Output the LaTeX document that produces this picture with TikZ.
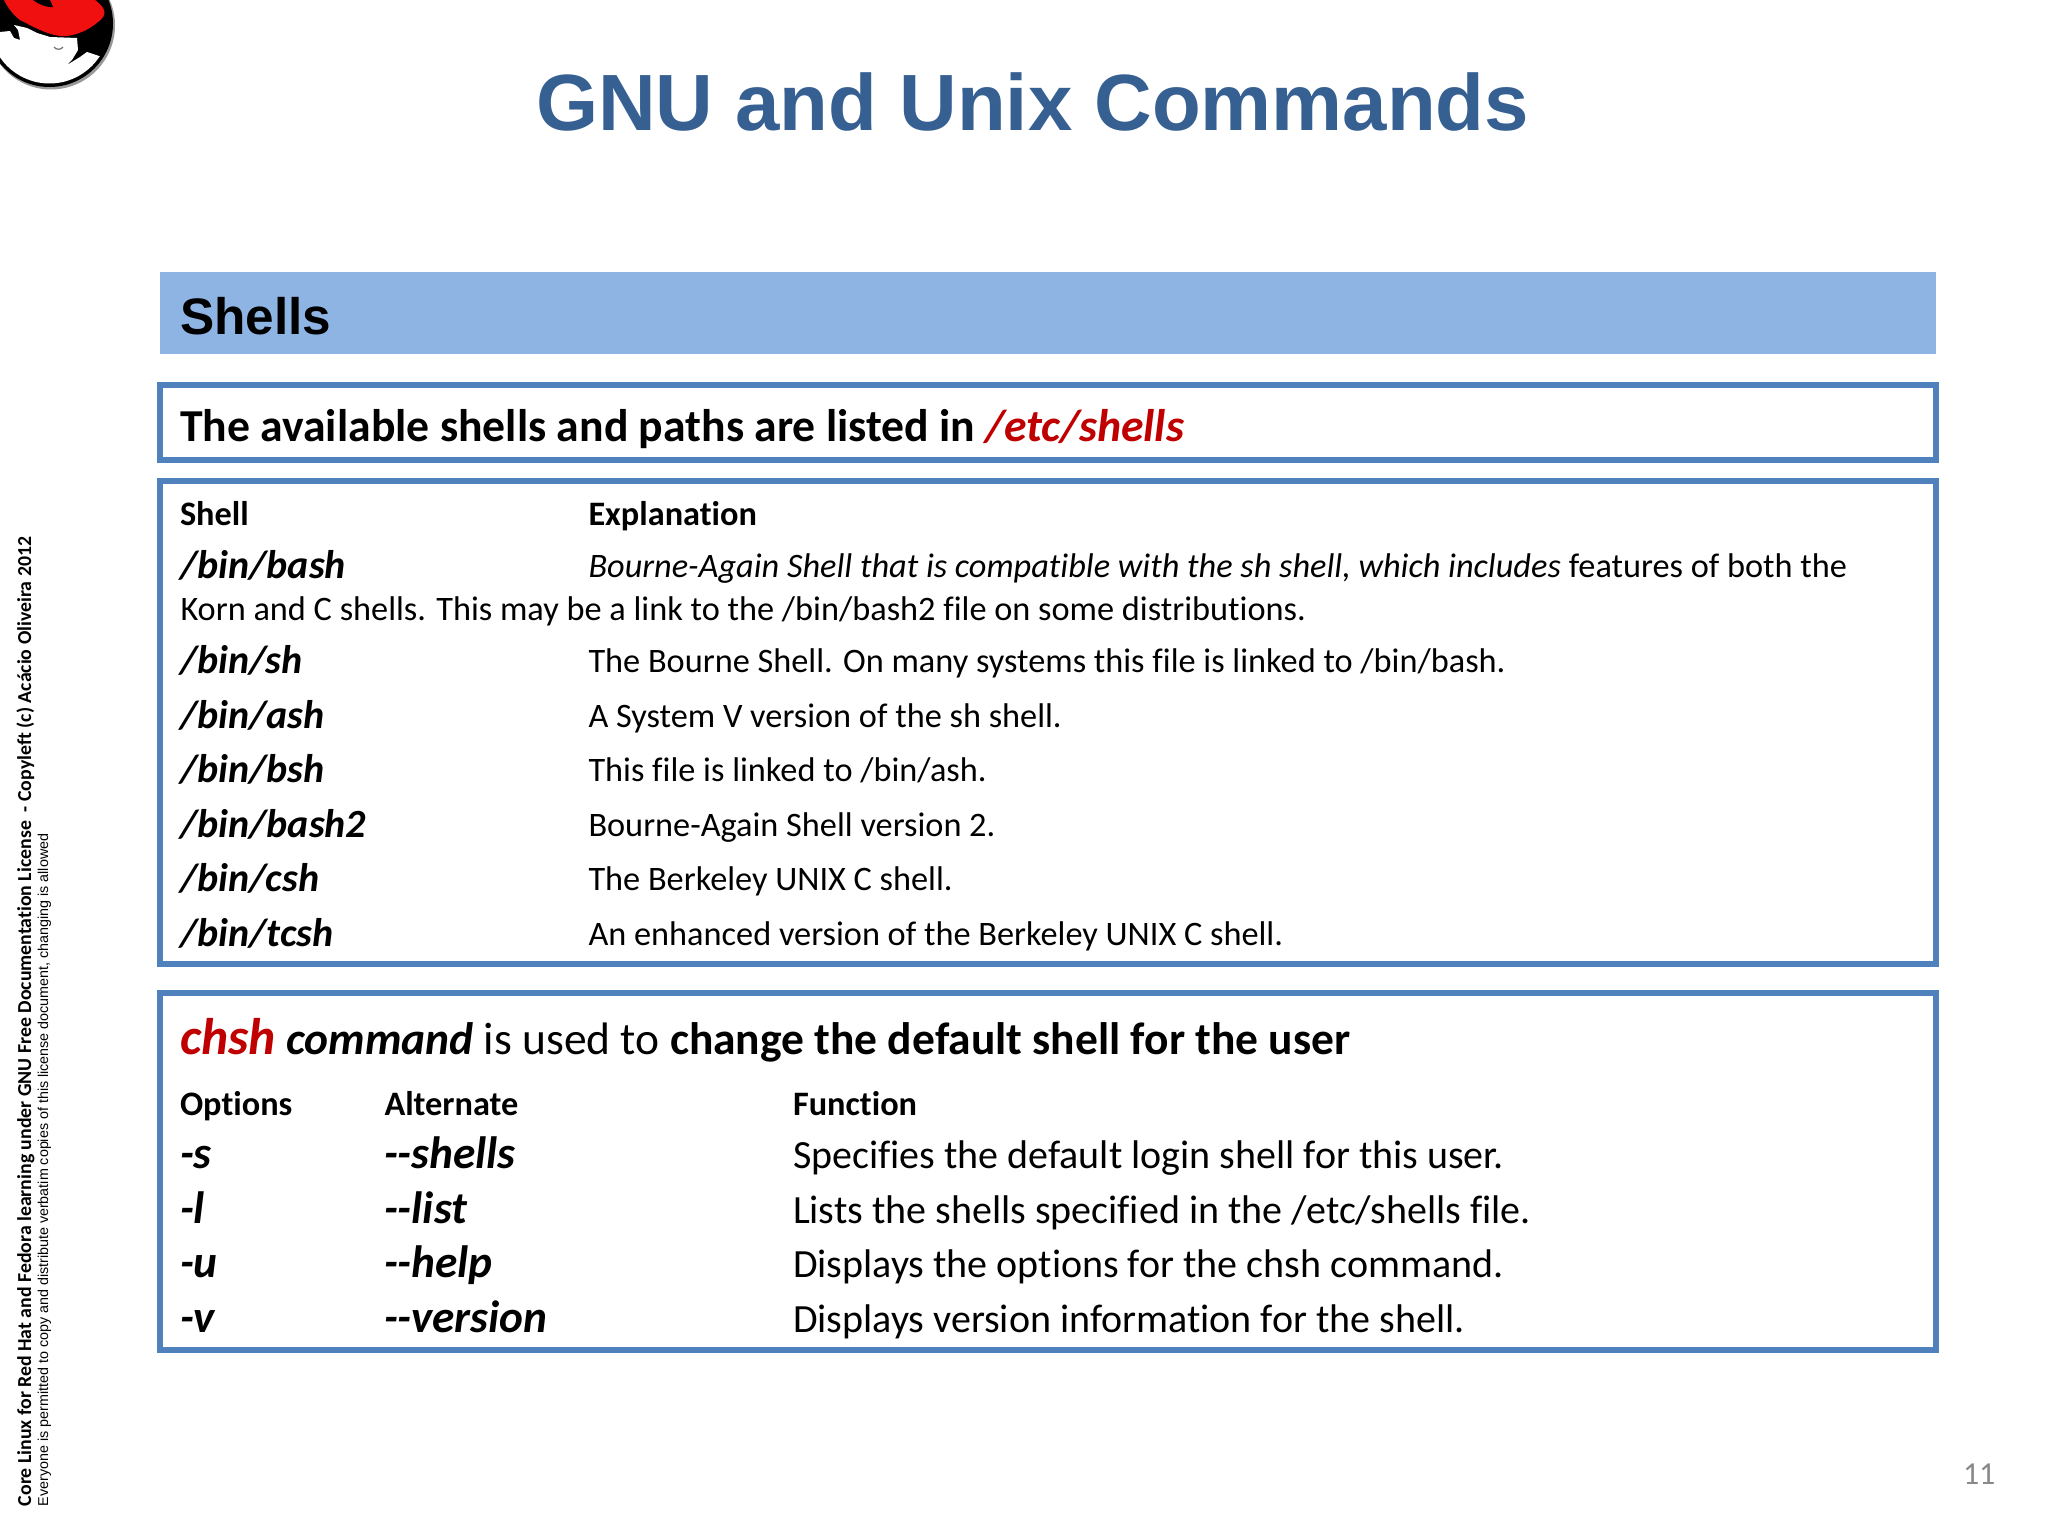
\documentclass[tikz,border=0pt]{standalone}
\usepackage{fontspec}
\setmainfont[Ligatures=NoCommon]{Carlito}
\newfontfamily\arialf{Liberation Sans}
\definecolor{framec}{HTML}{4F81BD}
\definecolor{bandc}{HTML}{8EB4E3}
\definecolor{titlec}{HTML}{376092}
\definecolor{redc}{HTML}{C00000}
\definecolor{pagec}{HTML}{898989}
\definecolor{hatc}{HTML}{F01010}
\tikzset{x=1pt,y=-1pt,
 txt/.style={anchor=base west,inner sep=0pt,outer sep=0pt,text=black},
 framebox/.style={draw=framec,line width=5.5pt,fill=white},
 hd/.style={txt,font=\fontsize{34.3}{34.3}\selectfont\bfseries},
 big/.style={txt,font=\fontsize{40}{40}\selectfont\bfseries\itshape},
 opt/.style={txt,font=\fontsize{45.3}{45.3}\selectfont\bfseries\itshape},
 row/.style={txt,font=\fontsize{34.3}{34.3}\selectfont},
 rowb/.style={txt,font=\fontsize{40}{40}\selectfont}}
\begin{document}
\begin{tikzpicture}
\useasboundingbox (0,0) rectangle (2048,1536);
\fill[white] (0,0) rectangle (2048,1536);
% logo
\begin{scope}
\clip (0,0) rectangle (200,120);
\fill[black!40] (51,25.5) circle (64);
\fill[black] (49.5,23.5) circle (63.5);
\begin{scope}
\clip (49.5,23.5) circle (60);
\fill[white] (0,32) -- (10,31) -- (14,38) -- (20,40) -- (18,30) -- (14,25) -- (27,28) -- (37,33) -- (50,37) -- (77,38) -- (78,50) -- (72,60) -- (67,65) -- (80,57) -- (87,52) -- (102,57) -- (110,120) -- (0,120) -- cycle;
\end{scope}
\fill[hatc] (4,0) -- (95,0) .. controls (106,8) and (108,15) .. (98,22) .. controls (85,33) and (70,37) .. (60,36) .. controls (45,34) and (30,25) .. (20,20) .. controls (12,14) and (7,6) .. (4,0) -- cycle;
\fill[black] (33,0) .. controls (38,4) and (48,8) .. (53,7) -- (50,0) -- cycle;
\draw[black!55,line width=1.2pt] (54,47) .. controls (56,50) and (61,50) .. (63,47);
\end{scope}
% title
\node[txt,text=titlec,font=\arialf\fontsize{79.8}{79.8}\selectfont\bfseries] (title) at (536,131) {GNU and Unix Commands};
% band
\fill[bandc] (160,272) rectangle (1936,354);
\node[txt,font=\arialf\fontsize{51.3}{51.3}\selectfont\bfseries] (band) at (180,334) {Shells};
% frames
\draw[framebox] (160,385) rectangle (1936,460);
\draw[framebox] (160,481) rectangle (1936,964);
\draw[framebox] (160,993) rectangle (1936,1350);
\node[txt,font=\fontsize{45.7}{45.7}\selectfont\bfseries] (avail) at (180,441.5) {The available shells and paths are listed in \textcolor{redc}{\itshape /etc/shells}};
% shells table
\node[hd] (h1) at (180,525.5) {Shell};
\node[hd] (h2) at (588.5,525.5) {Explanation};
\node[big] (s1) at (180,578) {/bin/bash};
\node[row] (e1) at (588.5,577.5) {\itshape Bourne-Again Shell that is compatible with the sh shell, which includes \upshape features of both the};
\node[row] (e1b) at (180.5,620.5) {Korn and C shells. This may be a link to the /bin/bash2 file on some distributions.};
\node[big] (s2) at (180,673) {/bin/sh};
\node[row] (e2) at (588.5,672.5) {The Bourne Shell. On many systems this file is linked to /bin/bash.};
\node[big] (s3) at (180,728) {/bin/ash};
\node[row] (e3) at (588.5,727.5) {A System V version of the sh shell.};
\node[big] (s4) at (180,782) {/bin/bsh};
\node[row] (e4) at (588.5,781.5) {This file is linked to /bin/ash.};
\node[big] (s5) at (180,837) {/bin/bash2};
\node[row] (e5) at (588.5,836.5) {Bourne-Again Shell version 2.};
\node[big] (s6) at (180,891) {/bin/csh};
\node[row] (e6) at (588.5,890.5) {The Berkeley UNIX C shell.};
\node[big] (s7) at (180,946) {/bin/tcsh};
\node[row] (e7) at (588.5,945.5) {An enhanced version of the Berkeley UNIX C shell.};
% chsh
\node[txt,font=\fontsize{45.5}{45.5}\selectfont] (chsh) at (180,1054.5) {\textbf{\itshape\textcolor{redc}{\fontsize{51.5}{51.5}\selectfont chsh} command} is used to \textbf{change the default shell for the user}};
\node[hd] (o1) at (180,1115.5) {Options};
\node[hd] (o2) at (384.5,1115.5) {Alternate};
\node[hd] (o3) at (793,1115.5) {Function};
\node[opt] (a1) at (180,1168) {-s};
\node[opt] (b1) at (384,1168) {-{}-shells};
\node[rowb] (c1) at (793,1168) {Specifies the default login shell for this user.};
\node[opt] (a2) at (180,1223) {-l};
\node[opt] (b2) at (384,1223) {-{}-list};
\node[rowb] (c2) at (793,1223) {Lists the shells specified in the /etc/shells file.};
\node[opt] (a3) at (180,1277) {-u};
\node[opt] (b3) at (384,1277) {-{}-help};
\node[rowb] (c3) at (793,1277) {Displays the options for the chsh command.};
\node[opt] (a4) at (180,1332) {-v};
\node[opt] (b4) at (384,1332) {-{}-version};
\node[rowb] (c4) at (793,1332) {Displays version information for the shell.};
% page number
\node[txt,text=pagec,font=\fontsize{32}{32}\selectfont] (pg) at (1963,1484) {11};
% side text
\node[txt,rotate=90,font=\fontsize{19.8}{19.8}\selectfont\bfseries] (side1) at (31,1506) {Core Linux for Red Hat and Fedora learning under GNU Free Documentation License\ \ - Copyleft (c) Acácio Oliveira 2012};
\node[txt,rotate=90,font=\arialf\fontsize{14.3}{14.3}\selectfont] (side2) at (48,1506) {Everyone is permitted to copy and distribute verbatim copies of this license document, changing is allowed};
\end{tikzpicture}
\end{document}
